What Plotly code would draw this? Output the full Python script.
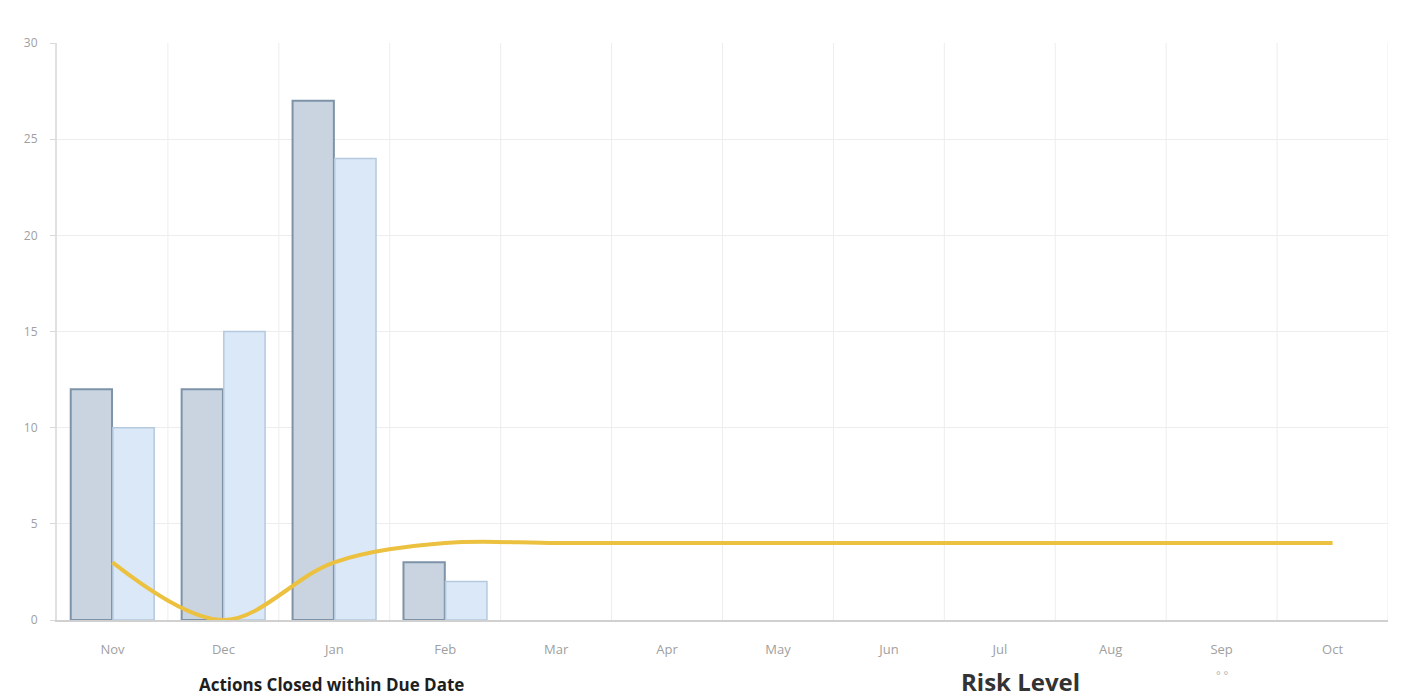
import plotly.graph_objects as go

months = ["Nov", "Dec", "Jan", "Feb", "Mar", "Apr", "May", "Jun", "Jul", "Aug", "Sep", "Oct"]
bar_months = ["Nov", "Dec", "Jan", "Feb"]
series_a = [12, 12, 27, 3]
series_b = [10, 15, 24, 2]
trend = [3, 0, 3, 4, 4, 4, 4, 4, 4, 4, 4, 4]
y_ticks = [0, 5, 10, 15, 20, 25, 30]

fig = go.Figure()
fig.add_trace(go.Bar(
    x=bar_months, y=series_a,
    marker=dict(color="#c9d4e0", line=dict(color="#7e93a8", width=2)),
    showlegend=False,
))
fig.add_trace(go.Bar(
    x=bar_months, y=series_b,
    marker=dict(color="#dbe8f7", line=dict(color="#b5c9de", width=1.5)),
    showlegend=False,
))
fig.add_trace(go.Scatter(
    x=months, y=trend, mode="lines",
    line=dict(color="#ecc140", width=4, shape="spline", smoothing=1.0),
    showlegend=False,
))

fig.update_layout(
    width=1411, height=699,
    margin=dict(l=57, r=23, t=43, b=79),
    paper_bgcolor="white", plot_bgcolor="white",
    barmode="group", bargap=0.24, bargroupgap=0.02,
    font=dict(family="Open Sans, sans-serif", color="#9a9a9a", size=11),
    xaxis=dict(
        type="category", categoryorder="array", categoryarray=months,
        range=[-0.5, 11.5],
        showgrid=False, showline=True, linecolor="#d0d0d0", linewidth=2,
        ticks="", ticklabelstandoff=16, tickfont=dict(size=13, color="#a0a0a0"),
    ),
    yaxis=dict(
        range=[0, 30], tickvals=y_ticks,
        showgrid=True, gridcolor="#ededed", gridwidth=1,
        showline=True, linecolor="#e0e0e0", linewidth=2,
        zeroline=False, ticks="outside", ticklen=5, tickcolor="#d8d8d8",
        ticklabelstandoff=10, tickfont=dict(size=12, color="#a0a0a0"),
    ),
)

# vertical separators between month categories
for i in range(12):
    fig.add_shape(type="line", xref="x", yref="paper",
                  x0=i + 0.5, x1=i + 0.5, y0=0, y1=1,
                  line=dict(color="#ededed", width=1), layer="below")

fig.add_annotation(text="<b>Actions Closed within Due Date</b>", xref="paper", yref="paper",
                   x=0.2066, y=-0.111, xanchor="center", yanchor="middle", showarrow=False,
                   font=dict(size=17, color="#1e1e1e", family="Open Sans, sans-serif"))
fig.add_annotation(text="<b>Risk Level</b>", xref="paper", yref="paper",
                   x=0.7238, y=-0.106, xanchor="center", yanchor="middle", showarrow=False,
                   font=dict(size=24, color="#333333", family="Open Sans, sans-serif"))
fig.add_annotation(text="° °", xref="paper", yref="paper",
                   x=0.876, y=-0.095, xanchor="center", yanchor="middle", showarrow=False,
                   font=dict(size=11, color="#b0b0b0"))

fig.write_html("out.html")
